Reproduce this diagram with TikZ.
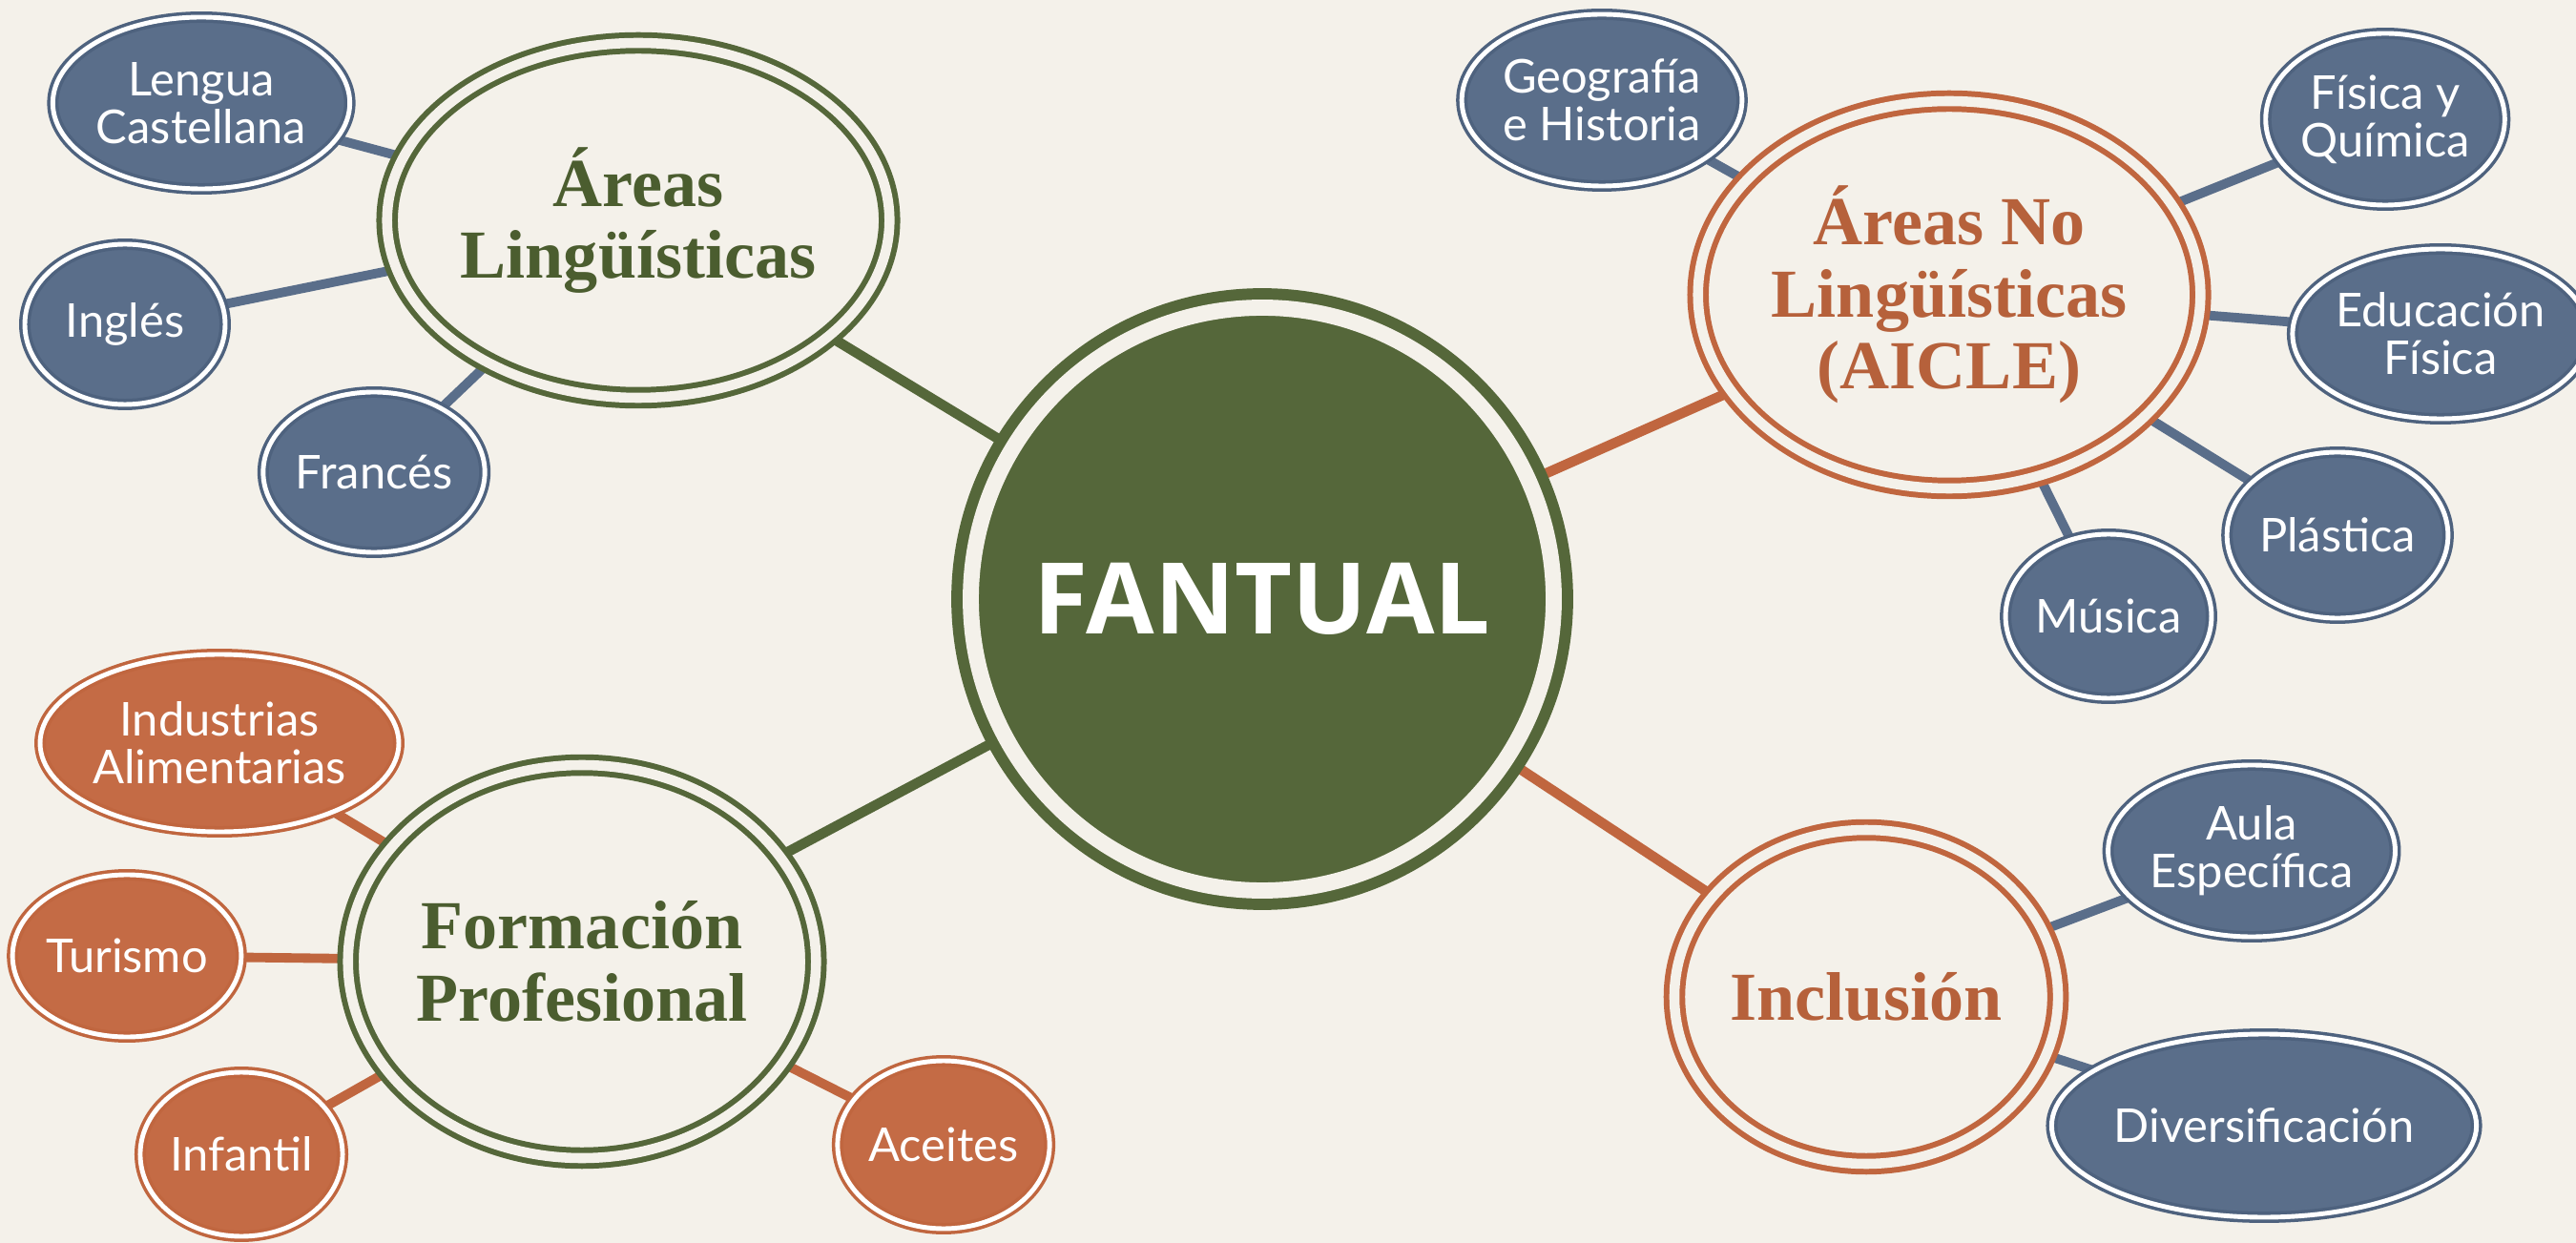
\documentclass[tikz,border=0pt]{standalone}
\usepackage{fontspec}
\newfontfamily\leaffont{Lato}
\newfontfamily\hubfont{Liberation Serif}
\newfontfamily\cenfont{Open Sans}
\usetikzlibrary{shapes.geometric}
\definecolor{cream}{HTML}{F4F1EA}
\definecolor{olive}{HTML}{55673A}
\definecolor{olivetext}{HTML}{4B5D2F}
\definecolor{rust}{HTML}{C0663F}
\definecolor{rustfill}{HTML}{C46B45}
\definecolor{rusttext}{HTML}{B6613B}
\definecolor{slate}{HTML}{4E627E}
\definecolor{slatefill}{HTML}{5A6E8A}
\pgfdeclarelayer{background}
\pgfsetlayers{background,main}

\begin{document}
\begin{tikzpicture}[
  leaf/.style={ellipse, inner sep=0pt, line width=1pt, double=white, double distance=1.4pt,
    text=white, align=center, font=\leaffont\fontsize{13.9}{14.2}\selectfont},
  blueleaf/.style={leaf, draw=slate, fill=slatefill},
  rustleaf/.style={leaf, draw=rust, fill=rustfill},
  hub/.style={ellipse, inner sep=0pt, line width=1.7pt, double=cream, double distance=3pt,
    fill=cream, align=center, font=\hubfont\bfseries\fontsize{20.5}{21.5}\selectfont},
  link/.style={line width=2.8pt},
  mainlink/.style={line width=3pt}]
\useasboundingbox (0,0) rectangle (27,-13.03);

\node[circle, inner sep=0pt, minimum size=6.11cm, draw=olive, fill=olive, line width=3.4pt,
  double=cream, double distance=4.8pt, text=white, font=\cenfont\bfseries\fontsize{29.5}{30}\selectfont]
  (cen) at (13.23,-6.28) {FANTUAL};

\node[hub, draw=olive, text=olivetext, minimum width=4.2cm, minimum height=3.72cm] (ling) at (6.69,-2.31) {Áreas\\Lingüísticas};
\node[hub, draw=rust, text=rusttext, minimum width=4.74cm, minimum height=4.06cm] (aicle) at (20.43,-3.09) {Áreas No\\Lingüísticas\\(AICLE)};
\node[hub, draw=olive, text=olivetext, minimum width=4.6cm, minimum height=4.12cm] (fp) at (6.10,-10.08) {Formación\\Profesional};
\node[hub, draw=rust, text=rusttext, minimum width=3.96cm, minimum height=3.5cm] (incl) at (19.56,-10.45) {Inclusión};

\node[blueleaf, minimum width=2.78cm, minimum height=1.8cm] (lengua) at (2.11,-1.08) {Lengua\\Castellana};
\node[blueleaf, minimum width=2.1cm, minimum height=1.68cm] (ingles) at (1.31,-3.40) {Inglés};
\node[blueleaf, minimum width=2.14cm, minimum height=1.68cm] (frances) at (3.92,-4.95) {Francés};

\node[blueleaf, minimum width=2.7cm, minimum height=1.8cm] (geo) at (16.79,-1.05) {Geografía\\e Historia};
\node[blueleaf, minimum width=2.4cm, minimum height=1.8cm] (fq) at (25.00,-1.25) {Física y\\Química};
\node[blueleaf, minimum width=2.7cm, minimum height=1.78cm] (edu) at (25.58,-3.50) {Educación\\Física};
\node[blueleaf, minimum width=2.1cm, minimum height=1.74cm] (plast) at (24.50,-5.61) {Plástica};
\node[blueleaf, minimum width=2.1cm, minimum height=1.72cm] (musica) at (22.10,-6.46) {Música};

\node[blueleaf, minimum width=2.86cm, minimum height=1.8cm] (aula) at (23.60,-8.92) {Aula\\Específica};
\node[blueleaf, minimum width=3.58cm, minimum height=1.92cm] (divers) at (23.73,-11.80) {Diversificación};

\node[rustleaf, minimum width=3.32cm, minimum height=1.86cm] (indus) at (2.30,-7.79) {Industrias\\Alimentarias};
\node[rustleaf, minimum width=2.1cm, minimum height=1.7cm] (turismo) at (1.33,-10.02) {Turismo};
\node[rustleaf, minimum width=2.06cm, minimum height=1.72cm] (infantil) at (2.53,-12.10) {Infantil};
\node[rustleaf, minimum width=2.12cm, minimum height=1.76cm] (aceites) at (9.89,-12.00) {Aceites};

\begin{pgfonlayer}{background}
\fill[cream] (0,0) rectangle (27,-13.03);
\draw[mainlink, olive] (cen) -- (ling) (cen) -- (fp);
\draw[mainlink, rust] (cen) -- (aicle) (cen) -- (incl);
\draw[link, slatefill] (ling) -- (lengua) (ling) -- (ingles) (ling) -- (frances);
\draw[link, slatefill] (aicle) -- (geo) (aicle) -- (fq) (aicle) -- (edu) (aicle) -- (plast) (aicle) -- (musica);
\draw[link, slatefill] (incl) -- (aula) (incl) -- (divers);
\draw[link, rust] (fp) -- (indus) (fp) -- (turismo) (fp) -- (infantil) (fp) -- (aceites);
\end{pgfonlayer}
\end{tikzpicture}
\end{document}
